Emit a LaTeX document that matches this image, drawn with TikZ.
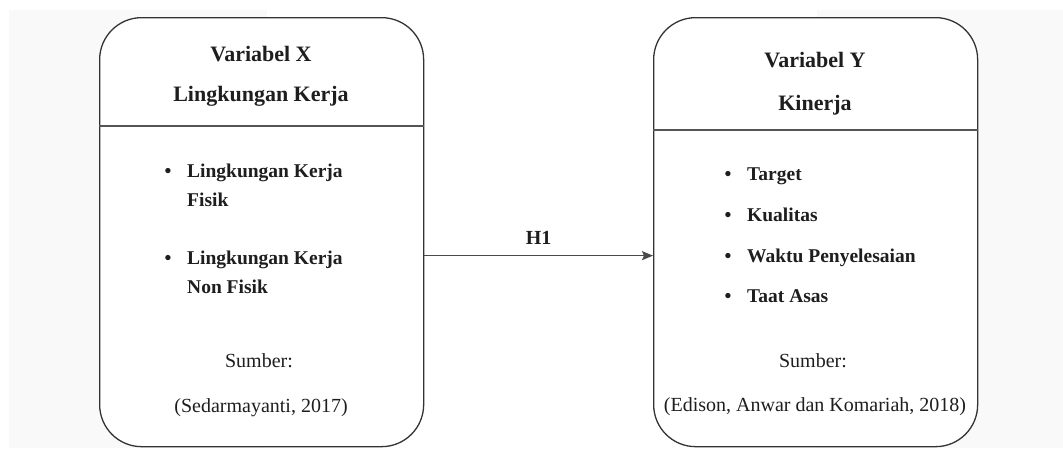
\documentclass[tikz,border=0pt]{standalone}
\usepackage{fontspec}
\setmainfont{Liberation Serif}
\usetikzlibrary{arrows.meta}
\definecolor{linec}{HTML}{333333}
\definecolor{divc}{HTML}{555555}
\definecolor{arrc}{HTML}{4A4A4A}
\definecolor{txt}{HTML}{1E1E1E}
\definecolor{bgc}{HTML}{F9F9F9}
\begin{document}
\begin{tikzpicture}[x=1pt,y=-1pt,
 box/.style={draw=linec, line width=1.3pt, rounded corners=42pt, fill=white,
   minimum width=324pt, minimum height=429pt, inner sep=0pt, anchor=north west},
 divline/.style={draw=divc, line width=1.8pt},
 head/.style={font=\fontsize{22}{26}\selectfont\bfseries, text=txt, inner sep=0pt, anchor=base},
 item/.style={font=\fontsize{19.5}{23}\selectfont\bfseries, text=txt, inner sep=0pt, anchor=base west},
 dot/.style={font=\fontsize{19.5}{23}\selectfont\bfseries, text=txt, inner sep=0pt, anchor=base},
 src/.style={font=\fontsize{20}{24}\selectfont, text=txt, inner sep=0pt, anchor=base},
 conn/.style={draw=arrc, line width=1.5pt, -{Stealth[length=11pt,width=9pt,inset=2pt]}},
]
\useasboundingbox (0,0) rectangle (1063,448);
\fill[bgc] (9,10) rectangle (1063,448);
\fill[white] (267,0) rectangle (817,448);

% boxes
\node[box] (X) at (99,17) {};
\node[box] (Y) at (653,17) {};
\draw[divline] ([yshift=-109pt]X.north west) -- ([yshift=-109pt]X.north east);
\draw[divline] ([yshift=-113pt]Y.north west) -- ([yshift=-113pt]Y.north east);

% left box text
\node[head] (xh1) at (261,61) {Variabel X};
\node[head] (xh2) at (261,101) {Lingkungan Kerja};
\node[dot] (xd1) at (168,177) {\textbullet};
\node[item] (xi1) at (187,177) {Lingkungan Kerja};
\node[item] (xi1b) at (187,206) {Fisik};
\node[dot] (xd2) at (168,264) {\textbullet};
\node[item] (xi2) at (187,264) {Lingkungan Kerja};
\node[item] (xi2b) at (187,293) {Non Fisik};
\node[src] (xs1) at (259,367) {Sumber:};
\node[src] (xs2) at (261,412) {(Sedarmayanti, 2017)};

% right box text
\node[head] (yh1) at (815,67) {Variabel Y};
\node[head] (yh2) at (815,110) {Kinerja};
\node[dot] (yd1) at (728,180) {\textbullet};
\node[item] (yi1) at (747,180) {Target};
\node[dot] (yd2) at (728,221) {\textbullet};
\node[item] (yi2) at (747,221) {Kualitas};
\node[dot] (yd3) at (728,262) {\textbullet};
\node[item] (yi3) at (747,262) {Waktu Penyelesaian};
\node[dot] (yd4) at (728,302) {\textbullet};
\node[item] (yi4) at (747,302) {Taat Asas};
\node[src] (ys1) at (813,367) {Sumber:};
\node[src] (ys2) at (815,411) {(Edison, Anwar dan Komariah, 2018)};

% connector
\draw[conn] ([yshift=-23.5pt]X.east) -- node[head, anchor=south, above=10pt, font=\fontsize{20}{24}\selectfont\bfseries] (h1) {H1} ([yshift=-23.5pt]Y.west);
\end{tikzpicture}
\end{document}
